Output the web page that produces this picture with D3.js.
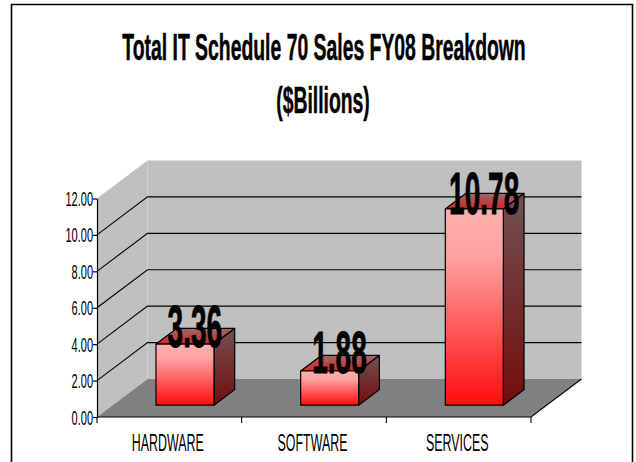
<!DOCTYPE html>
<html><head><meta charset="utf-8">
<style>html,body{margin:0;padding:0;background:#fff;overflow:hidden}svg{display:block}text{font-family:"Liberation Sans",Arial,sans-serif;fill:#000}</style>
<script src="https://cdnjs.cloudflare.com/ajax/libs/d3/7.8.5/d3.min.js"></script>
</head><body><script>
const categories = ["HARDWARE", "SOFTWARE", "SERVICES"];
const values = [3.36, 1.88, 10.78];
const yTicks = [0, 2, 4, 6, 8, 10, 12];
const titleLines = ["Total IT Schedule 70 Sales FY08 Breakdown", "($Billions)"];

const W = 636, H = 462;
const depthX = 50.5, depthY = 38;
const x = d3.scaleBand().domain(categories).range([97, 531]);
const y = d3.scaleLinear().domain([0, 12]).range([417, 198.5]);
const labelY = d3.scaleLinear().domain([0, 12]).range([407, 192.6]);
const barW = 58, z0 = 0.31, z1 = 0.72;
const P = (px, v, z) => [px + depthX * z, y(v) - depthY * z];
const path = pts => "M" + pts.map(p => p.join(",")).join("L") + "Z";

const svg = d3.select("body").append("svg").attr("width", W).attr("height", H);
const defs = svg.append("defs");
function grad(id, stops) {
  const g = defs.append("linearGradient").attr("id", id).attr("x1", 0).attr("y1", 0).attr("x2", 0).attr("y2", 1);
  stops.forEach(([o, c]) => g.append("stop").attr("offset", o).attr("stop-color", c));
}
grad("front", [[0, "#ffb0b0"], [0.25, "#ffa0a0"], [1, "#ff0c0c"]]);
grad("side", [[0, "#705252"], [1, "#740c0c"]]);
grad("top", [[0, "#9c6a6a"], [1, "#d82424"]]);

// frame
svg.append("path").attr("d", `M11.5,${H}V4.5H632.5V${H}`).attr("fill", "none").attr("stroke", "#000").attr("stroke-width", 1.6);

// stretched text
function stretched(sel, px, py, sx, size, weight, txt, heavy) {
  return sel.append("text").attr("transform", `translate(${px},${py}) scale(${sx},1)`)
    .attr("text-anchor", "middle").attr("font-size", size).attr("font-weight", weight)
    .attr("stroke", "#000").attr("stroke-width", heavy).text(txt);
}
stretched(svg, 324, 60, 0.524, 37, "bold", titleLines[0], 0.5);
stretched(svg, 323, 113, 0.524, 37, "bold", titleLines[1], 0.5);

// walls and floor
const x0 = x.range()[0], x1 = x.range()[1];
svg.append("path").attr("d", path([P(x0, 0, 1), P(x1, 0, 1), P(x1, 12, 1), P(x0, 12, 1)])).attr("fill", "#c0c0c0");
svg.append("path").attr("d", path([P(x0, 0, 0), P(x0, 0, 1), P(x0, 12, 1), P(x0, 12, 0)])).attr("fill", "#c0c0c0");
svg.append("path").attr("d", path([P(x0, 0, 0), P(x1, 0, 0), P(x1, 0, 1), P(x0, 0, 1)])).attr("fill", "#808080");

// gridlines
const grid = svg.append("g").attr("fill", "none").attr("stroke", "#000").attr("stroke-width", 1.1);
yTicks.filter(t => t > 0 && t < 12).forEach(t => {
  grid.append("polyline").attr("points", [P(x0, t, 0), P(x0, t, 1), P(x1, t, 1)].map(p => p.join(",")).join(" "));
});
grid.append("polyline").attr("points", [P(x0, 0, 0), P(x1, 0, 0), P(x1, 0, 1)].map(p => p.join(",")).join(" "));

// bars
const bars = svg.append("g").selectAll("g").data(categories.map((c, i) => ({ c, v: values[i] }))).join("g")
  .attr("stroke", "#000").attr("stroke-width", 1.2).attr("stroke-linejoin", "round");
const left = d => x(d.c) + x.bandwidth() / 2 - barW / 2, right = d => left(d) + barW;
bars.append("path").attr("fill", "url(#top)")
  .attr("d", d => path([P(left(d), d.v, z0), P(right(d), d.v, z0), P(right(d), d.v, z1), P(left(d), d.v, z1)]));
bars.append("path").attr("fill", "url(#side)")
  .attr("d", d => path([P(right(d), 0, z0), P(right(d), 0, z1), P(right(d), d.v, z1), P(right(d), d.v, z0)]));
bars.append("path").attr("fill", "url(#front)")
  .attr("d", d => path([P(left(d), 0, z0), P(right(d), 0, z0), P(right(d), d.v, z0), P(left(d), d.v, z0)]));

// y axis
const axY = svg.append("g").attr("transform", `translate(${x0},0)`)
  .call(d3.axisLeft(y).tickValues(yTicks).tickFormat(d3.format(".2f")).tickSize(4).tickSizeOuter(0));
axY.select(".domain").attr("stroke", "#000").attr("stroke-width", 1.2);
axY.selectAll(".tick line").attr("stroke", "#000").attr("stroke-width", 1.2);
axY.selectAll(".tick text").attr("font-family", null).attr("font-size", 20).attr("x", 0).attr("dy", 0)
  .attr("text-anchor", "end")
  .attr("transform", "translate(-4,7) scale(0.55,1)");

// x axis
const axX = svg.append("g").attr("transform", `translate(0,${y(0)})`)
  .call(d3.axisBottom(x).tickSize(0).tickPadding(0));
axX.select(".domain").remove();
axX.selectAll(".tick text").attr("font-size", 23).attr("y", 0).attr("dy", 0)
  .attr("transform", "translate(-1.5,34) scale(0.54,1)");
const cuts = categories.map(c => x(c)).concat(x1);
svg.append("g").selectAll("line").data(cuts).join("line")
  .attr("x1", d => d).attr("x2", d => d).attr("y1", y(0)).attr("y2", y(0) + 6)
  .attr("stroke", "#000").attr("stroke-width", 1.1);

// value labels
const labels = svg.append("g");
categories.forEach((c, i) => {
  stretched(labels, x(c) + x.bandwidth() / 2 + 25.5, labelY(values[i]), 0.475, 59, "bold", values[i].toFixed(2), 0.9);
});
</script></body></html>
